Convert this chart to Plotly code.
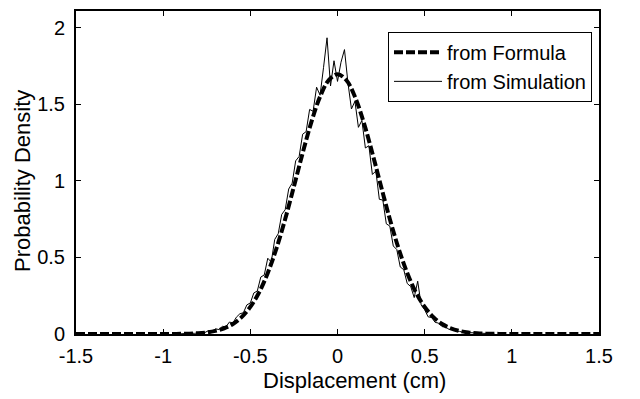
import numpy as np
import plotly.graph_objects as go

# Formula curve, x = -1.5..1.5 step 0.05
formula_x = np.round(np.arange(-1.5, 1.5001, 0.05), 3)
formula_half = [0.0, 0.0, 0.0, 0.0, 0.0, 0.0, 0.0, 0.0, 0.0, 0.0, 0.0,  # -1.5 .. -1.0
                0.0005, 0.0011, 0.0024, 0.0052, 0.0104, 0.0201, 0.037, 0.065, 0.110,
                0.177, 0.271, 0.399, 0.560, 0.751, 0.964, 1.181, 1.384, 1.550, 1.659]
formula_peak = [1.697]
formula_y = formula_half + formula_peak + formula_half[::-1]

# Simulation histogram density, x = -0.9..0.9 step 0.02
sim_x = np.round(np.arange(-0.9, 0.9001, 0.02), 3)
sim_y = [0.001, 0.003, 0.002, 0.006, 0.004, 0.009, 0.012, 0.010, 0.022, 0.017,
         0.034, 0.029, 0.050, 0.047, 0.078, 0.072, 0.110, 0.132, 0.139, 0.190,
         0.203, 0.268, 0.281, 0.372, 0.386, 0.495, 0.470, 0.618, 0.655, 0.781,
         0.812, 0.947, 0.985, 1.131, 1.160, 1.305, 1.322, 1.467, 1.455, 1.612,
         1.560, 1.742, 1.935, 1.620, 1.785, 1.650, 1.775, 1.858, 1.640, 1.470,
         1.520, 1.350, 1.395, 1.215, 1.230, 1.042, 1.065, 0.880, 0.875, 0.720,
         0.705, 0.575, 0.552, 0.438, 0.420, 0.330, 0.310, 0.238, 0.345, 0.190,
         0.158, 0.112, 0.108, 0.076, 0.071, 0.048, 0.046, 0.030, 0.029, 0.018,
         0.017, 0.011, 0.010, 0.006, 0.005, 0.004, 0.003, 0.002, 0.0015, 0.001, 0.0007]

x_ticks = [-1.5, -1, -0.5, 0, 0.5, 1, 1.5]
x_tick_labels = ["-1.5", "-1", "-0.5", "0", "0.5", "1", "1.5"]
y_ticks = [0, 0.5, 1, 1.5, 2]
y_tick_labels = ["0", "0.5", "1", "1.5", "2"]
x_title = "Displacement (cm)"
y_title = "Probability Density"

FONT = "Liberation Sans, Arial, sans-serif"
W, H = 640, 399
ML, MR, MT, MB = 76, 41, 9, 65
PW, PH = W - ML - MR, H - MT - MB

fig = go.Figure()
fig.add_trace(go.Scatter(x=formula_x, y=formula_y, mode="lines", name="from Formula",
                         line=dict(color="black", width=4, dash="9px,3px", shape="spline")))
fig.add_trace(go.Scatter(x=sim_x, y=sim_y, mode="lines", name="from Simulation",
                         line=dict(color="black", width=1)))

axis_common = dict(showgrid=False, zeroline=False, showline=True, linecolor="black",
                   linewidth=2, mirror="ticks", ticks="inside", ticklen=5,
                   tickcolor="black", tickwidth=1,
                   tickfont=dict(family=FONT, size=20, color="black"))

fig.update_xaxes(range=[-1.5, 1.5], tickvals=x_ticks, ticktext=x_tick_labels,
                 ticklabelstandoff=3, **axis_common)
fig.update_yaxes(range=[0, 2.11], tickvals=y_ticks, ticktext=y_tick_labels,
                 ticklabelstandoff=5, **axis_common)

# axis titles placed as annotations (paper coords derived from pixel layout)
fig.add_annotation(text=x_title, xref="paper", yref="paper",
                   x=(354 - ML) / PW, y=(MT + PH - 381) / PH,
                   xanchor="center", yanchor="middle", showarrow=False,
                   font=dict(family=FONT, size=22, color="black"))
fig.add_annotation(text=y_title, xref="paper", yref="paper", textangle=-90,
                   x=(23 - ML) / PW, y=(MT + PH - 180) / PH,
                   xanchor="center", yanchor="middle", showarrow=False,
                   font=dict(family=FONT, size=22, color="black"))

fig.update_layout(
    width=W, height=H,
    margin=dict(l=ML, r=MR, t=MT, b=MB),
    paper_bgcolor="white", plot_bgcolor="white",
    showlegend=True,
    legend=dict(x=(592 - ML) / PW, y=(MT + PH - 30) / PH, xanchor="right", yanchor="top",
                bgcolor="white", bordercolor="black", borderwidth=1,
                font=dict(family=FONT, size=20, color="black"),
                tracegroupgap=0, itemwidth=48),
)

fig.write_html("out.html", config={"displayModeBar": False},
               post_script="document.body.style.margin='0';document.body.style.overflow='hidden';")
